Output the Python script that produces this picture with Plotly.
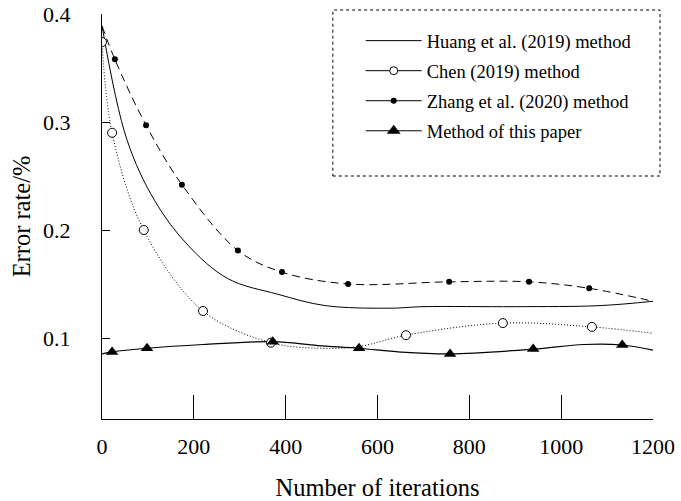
import plotly.graph_objects as go

# ---- data ----
x_ticks = [0, 200, 400, 600, 800, 1000, 1200]
y_ticks = [0.1, 0.2, 0.3, 0.4]

huang_x = [0, 54, 115, 187, 274, 383, 486, 627, 699, 900, 1085, 1200]
huang_y = [0.389, 0.284, 0.227, 0.186, 0.155, 0.1405, 0.130, 0.1276, 0.129, 0.129, 0.130, 0.134]

chen_mx = [0, 22, 91, 220, 368, 662, 873, 1067]
chen_my = [0.374, 0.290, 0.200, 0.125, 0.0957, 0.1026, 0.1138, 0.1103]
chen_lx = [0, 22, 91, 220, 368, 475, 560, 662, 873, 1067, 1200]
chen_ly = [0.374, 0.290, 0.200, 0.125, 0.0957, 0.0905, 0.0922, 0.1026, 0.1138, 0.1103, 0.1043]

zhang_mx = [28, 96, 174, 296, 392, 536, 756, 930, 1061]
zhang_my = [0.358, 0.297, 0.242, 0.181, 0.161, 0.150, 0.152, 0.152, 0.146]
zhang_lx = [0, 28, 96, 174, 296, 392, 536, 756, 930, 1061, 1200]
zhang_ly = [0.389, 0.358, 0.297, 0.242, 0.181, 0.161, 0.150, 0.152, 0.152, 0.146, 0.134]

ours_mx = [22, 98, 372, 560, 758, 939, 1133]
ours_my = [0.0871, 0.0905, 0.0966, 0.0905, 0.0853, 0.0897, 0.0935]
ours_lx = [0, 22, 98, 220, 372, 470, 560, 650, 758, 939, 1050, 1133, 1200]
ours_ly = [0.0853, 0.0871, 0.0905, 0.094, 0.0966, 0.093, 0.0905, 0.087, 0.0853, 0.0897, 0.094, 0.0935, 0.0888]

names = ["Huang et al. (2019) method", "Chen (2019) method",
         "Zhang et al. (2020) method", "Method of this paper"]

FONT = "Liberation Serif, Times New Roman, serif"
BLACK = "#000000"

fig = go.Figure()

# curves
fig.add_trace(go.Scatter(x=huang_x, y=huang_y, mode="lines", showlegend=False,
                         line=dict(color=BLACK, width=1, shape="spline", smoothing=1.0)))
fig.add_trace(go.Scatter(x=chen_lx, y=chen_ly, mode="lines", showlegend=False,
                         line=dict(color=BLACK, width=1, dash="1px,2px", shape="spline", smoothing=1.0)))
fig.add_trace(go.Scatter(x=zhang_lx, y=zhang_ly, mode="lines", showlegend=False,
                         line=dict(color=BLACK, width=1, dash="8px,5px", shape="spline", smoothing=1.0)))
fig.add_trace(go.Scatter(x=ours_lx, y=ours_ly, mode="lines", showlegend=False,
                         line=dict(color=BLACK, width=1.2, shape="spline", smoothing=1.0)))

# markers
fig.add_trace(go.Scatter(x=chen_mx, y=chen_my, mode="markers", showlegend=False,
                         marker=dict(symbol="circle", size=9, color="white",
                                     line=dict(color=BLACK, width=1))))
fig.add_trace(go.Scatter(x=zhang_mx, y=zhang_my, mode="markers", showlegend=False,
                         marker=dict(symbol="circle", size=6, color=BLACK)))
fig.add_trace(go.Scatter(x=ours_mx, y=ours_my, mode="markers", showlegend=False,
                         marker=dict(symbol="triangle-up", size=11, color=BLACK)))

# legend entries (solid sample lines as in the reference legend)
legend_styles = [
    dict(mode="lines", marker=None),
    dict(mode="lines+markers", marker=dict(symbol="circle", size=8, color="white",
                                           line=dict(color=BLACK, width=1))),
    dict(mode="lines+markers", marker=dict(symbol="circle", size=6, color=BLACK)),
    dict(mode="lines+markers", marker=dict(symbol="triangle-up", size=12, color=BLACK)),
]
for i, (nm, st) in enumerate(zip(names, legend_styles)):
    kw = dict(x=[None], y=[None], name=nm, mode=st["mode"], legendgroup=f"g{i}",
              line=dict(color=BLACK, width=1))
    if st["marker"] is not None:
        kw["marker"] = st["marker"]
    fig.add_trace(go.Scatter(**kw))

fig.update_layout(
    width=681, height=501,
    margin=dict(l=102, r=28, t=14, b=82, autoexpand=False),
    paper_bgcolor="white", plot_bgcolor="white",
    font=dict(family=FONT, color=BLACK, size=22),
    showlegend=True,
    legend=dict(x=0.4695, y=0.98, xanchor="left", yanchor="top",
                bgcolor="rgba(0,0,0,0)", borderwidth=0,
                font=dict(family=FONT, size=18.5, color=BLACK),
                tracegroupgap=3, itemwidth=56, traceorder="grouped"),
    shapes=[dict(type="rect", xref="paper", yref="paper",
                 x0=0.419, x1=1.0127, y0=0.60, y1=1.0099,
                 line=dict(color=BLACK, width=1, dash="dot"))],
)

fig.update_xaxes(range=[0, 1200], tickvals=x_ticks, ticks="inside", ticklen=24,
                 tickwidth=1, tickcolor=BLACK, showline=True, linecolor=BLACK, linewidth=1,
                 showgrid=False, zeroline=False, ticklabelstandoff=8, automargin=False,
                 ticklabeloverflow="allow",
                 tickfont=dict(family=FONT, size=22),
                 title=dict(text="Number of iterations", font=dict(family=FONT, size=24.5),
                            standoff=22))
fig.update_yaxes(range=[0.025, 0.4], tickvals=y_ticks, ticks="inside", ticklen=8,
                 tickwidth=1, tickcolor=BLACK, showline=True, linecolor=BLACK, linewidth=1,
                 showgrid=False, zeroline=False, ticklabelstandoff=26, automargin=False,
                 ticklabeloverflow="allow",
                 tickfont=dict(family=FONT, size=22),
                 title=dict(text="Error rate/%", font=dict(family=FONT, size=24.5),
                            standoff=5))

fig.write_html("out.html", config={"displayModeBar": False},
               post_script="document.body.style.margin='0px';")
